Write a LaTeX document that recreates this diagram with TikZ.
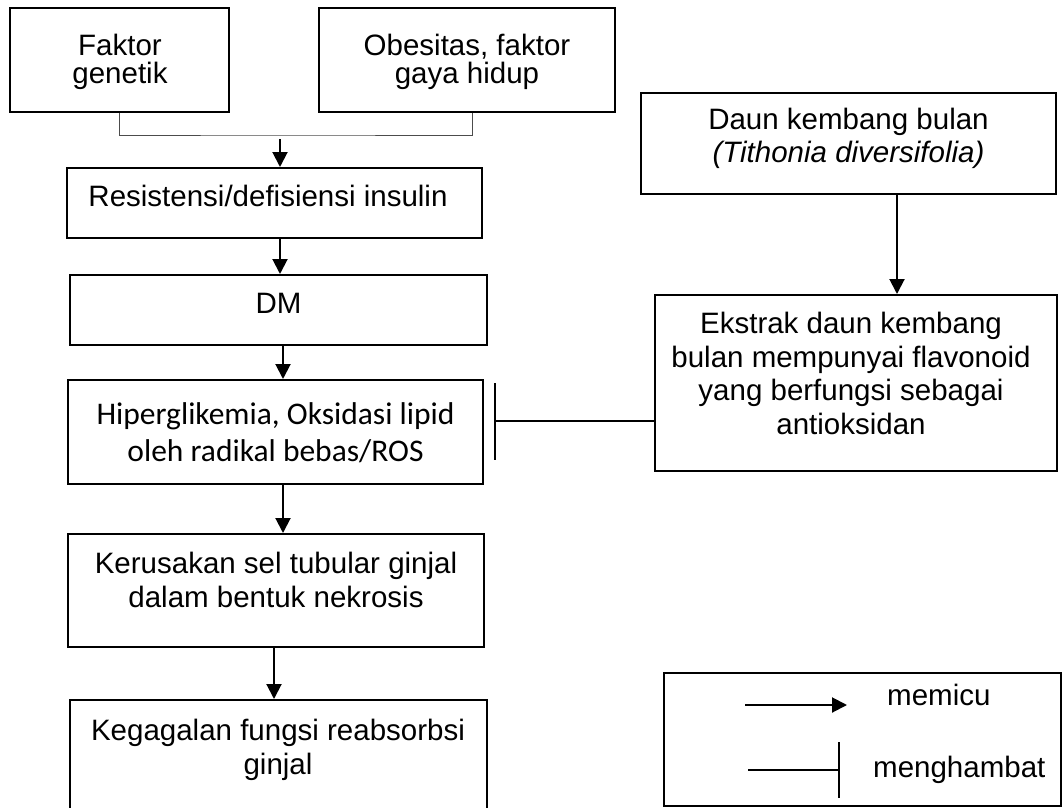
\documentclass[tikz,border=0pt]{standalone}
\usepackage{fontspec}
\setmainfont{Liberation Sans}
\newfontfamily\calibri{Carlito}
\usetikzlibrary{arrows.meta}
\tikzset{
  box/.style={draw, line width=2pt, inner sep=0pt},
  txt/.style={align=center, inner sep=0pt, font=\fontsize{29.5pt}{33.5pt}\selectfont},
  tight/.style={align=center, inner sep=0pt, font=\fontsize{29.5pt}{28.4pt}\selectfont},
  arr/.style={line width=2pt, -{Triangle[length=15pt,width=15pt]}},
  inh/.style={line width=1.2pt, -{Bar[width=#1,line width=1.6pt]}},
}
\begin{document}
\begin{tikzpicture}[x=1pt, y=-1pt]
      \useasboundingbox (0,0) rectangle (1063,808);
      \clip (0,0) rectangle (1063,808);
      \draw
        (119.5,60) node[box, minimum width=219pt, minimum height=104pt] (genetik){}
        (467,60) node[box, minimum width=296pt, minimum height=104pt] (obesitas){}
        (274.5,203) node[box, minimum width=415pt, minimum height=70pt] (insulin){}
        (278.5,310) node[box, minimum width=417pt, minimum height=70pt] (dm){}
        (275.5,432) node[box, minimum width=415pt, minimum height=104pt] (hiper){}
        (276,590.5) node[box, minimum width=416pt, minimum height=113pt] (kerusakan){}
        (278.5,760) node[box, minimum width=417pt, minimum height=120pt] (kegagalan){}
        (848.5,143.5) node[box, minimum width=415pt, minimum height=101pt] (daun){}
        (856,383) node[box, minimum width=402pt, minimum height=176pt] (ekstrak){}
        (862.5,739.5) node[box, minimum width=397pt, minimum height=133pt] (legenda){};
      \draw
        (120,62) node[tight] (genetikT){Faktor\\genetik}
        (467,62) node[tight] (obesitasT){Obesitas, faktor\\gaya hidup}
        (268,196) node[txt] (insulinT){Resistensi/defisiensi insulin}
        (278.5,303) node[txt] (dmT){DM}
        (275.5,433) node[align=center, inner sep=0pt, font=\calibri\fontsize{31.5pt}{37pt}\selectfont] (hiperT){Hiperglikemia, Oksidasi lipid\\oleh radikal bebas/ROS}
        (276,580) node[txt] (kerusakanT){Kerusakan sel tubular ginjal\\dalam bentuk nekrosis}
        (278,750) node[txt] (kegagalanT){Kegagalan fungsi reabsorbsi\\ginjal}
        (848.5,138.5) node[txt] (daunT){Daun kembang bulan\\\textit{(Tithonia diversifolia)}}
        (851,373.5) node[txt] (ekstrakT){Ekstrak daun kembang\\bulan mempunyai flavonoid\\yang berfungsi sebagai\\antioksidan}
        (887,705) node[txt, anchor=base west] (memicu){memicu}
        (873,777) node[txt, anchor=base west] (menghambat){menghambat};
      \coordinate (bend) at (280,135);
      \coordinate (fork) at (280,139);
      \coordinate (block) at (494,421);
      \coordinate (trigA) at (745,705);
      \coordinate (trigB) at (847,705);
      \coordinate (holdA) at (748,770);
      \coordinate (holdB) at (840,770);
      \draw[line width=1pt, black!70] (genetik.south) |- (bend) -| ([xshift=5pt]obesitas.south);
      \begin{scope}[arr]
        \draw (fork) to (fork |- insulin.north);
        \draw ([xshift=5.5pt]insulin.south) to ([xshift=5.5pt]insulin.south |- dm.north);
        \draw ([xshift=4.5pt]dm.south) to ([xshift=4.5pt]dm.south |- hiper.north);
        \draw ([xshift=7.5pt]hiper.south) to ([xshift=7.5pt]hiper.south |- kerusakan.north);
        \draw ([xshift=-2pt]kerusakan.south) to ([xshift=-2pt]kerusakan.south |- kegagalan.north);
        \draw ([xshift=48.5pt]daun.south) to ([xshift=48.5pt]daun.south |- ekstrak.north);
        \draw (trigA) to (trigB);
      \end{scope}
      \draw[inh=77pt] (ekstrak.west |- block) to (block);
      \draw[inh=56pt] (holdA) to (holdB);
    \end{tikzpicture}
\end{document}
